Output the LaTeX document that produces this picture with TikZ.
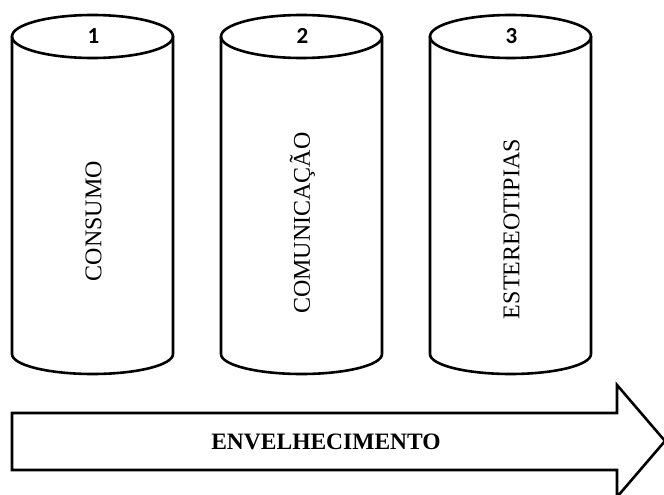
\documentclass[tikz,border=0pt]{standalone}
\usepackage{fontspec}
\setmainfont{Liberation Serif}
\newfontfamily\numfont{Carlito}
\begin{document}
\begin{tikzpicture}[x=1pt, y=-1pt, line width=2.6pt,
        pillar/.style={draw, line join=round},
        pillarlabel/.style={rotate=90, font=\fontsize{24}{28}\selectfont}]
    \useasboundingbox (0,0) rectangle (664,495);
    % the three pillars
    \foreach \x/\n/\t/\ly in {12/1/CONSUMO/221, 221/2/COMUNICAÇÃO/223, 430/3/ESTEREOTIPIAS/229} {
        \draw[pillar] (\x,36.5) -- (\x,354)
            arc[start angle=180, end angle=0, x radius=80.5, y radius=20] -- (\x+161,36.5);
        \draw[pillar] (\x+80.5,36.5) ellipse[x radius=80.5, y radius=21.5];
        \node[font=\numfont\bfseries\fontsize{23}{26}\selectfont] (num\n) at (\x+81.5,36) {\n};
        \node[pillarlabel] (lab\n) at (\x+81.5,\ly) {\t};
    }
    % ageing arrow
    \draw[line join=miter] (12,413) -- (617,413) -- (617,385) -- (665,441)
        -- (617,497) -- (617,470) -- (12,470) -- cycle;
    \node[font=\bfseries\fontsize{23.5}{28}\selectfont] (age) at (326,442) {ENVELHECIMENTO};
\end{tikzpicture}
\end{document}
